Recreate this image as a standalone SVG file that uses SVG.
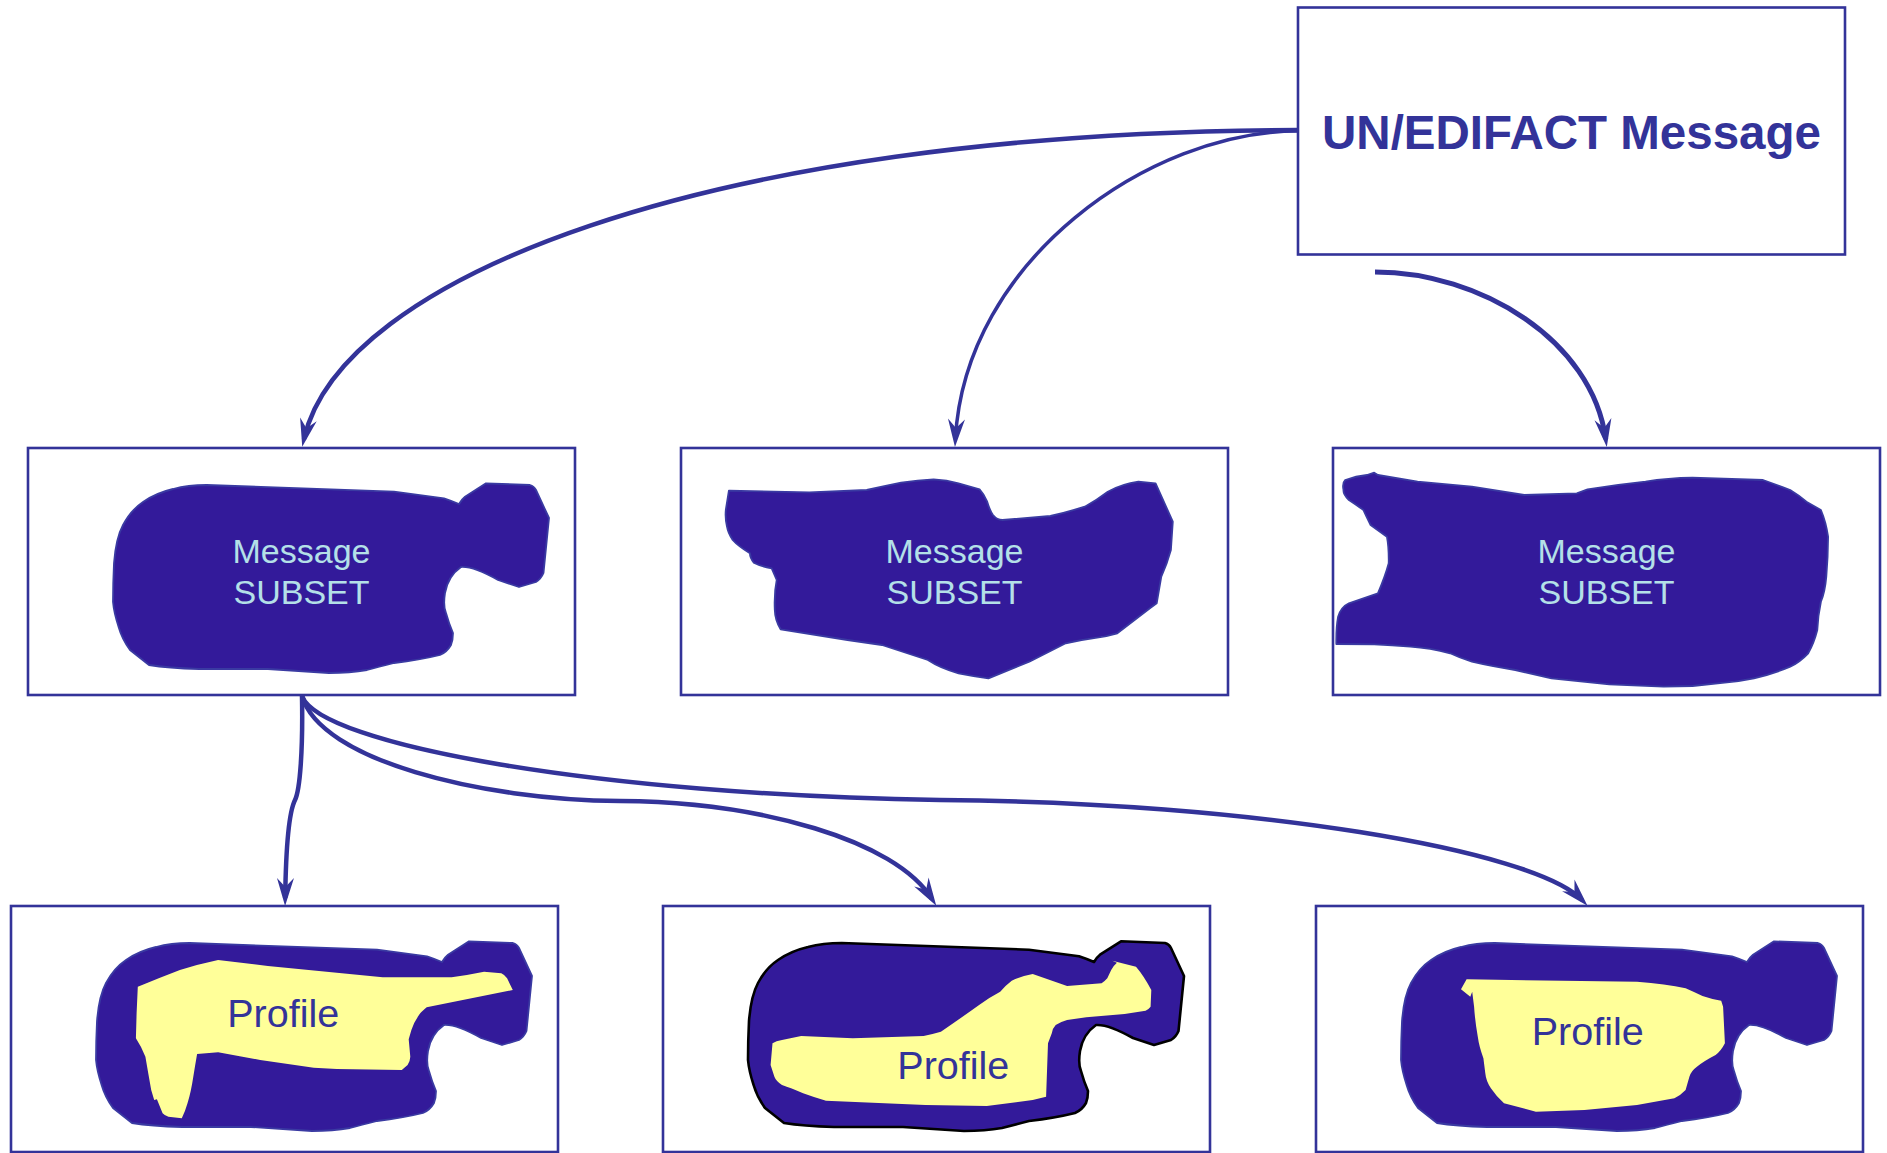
<svg xmlns="http://www.w3.org/2000/svg" width="1887" height="1153" viewBox="0 0 1887 1153">
<style>
.box{fill:#ffffff;stroke:#333399;stroke-width:2.6}
.blob{fill:#331a9a;stroke:#3a3aa2;stroke-width:1.8;stroke-linejoin:round}
.blobk{fill:#331a9a;stroke:#000000;stroke-width:2.6;stroke-linejoin:round}
.yel{fill:#ffff99;stroke:none}
.conn{fill:none;stroke:#333399;stroke-linecap:butt}
.title{font-family:"Liberation Sans",Arial,sans-serif;font-weight:bold;font-size:47.5px;fill:#333399;text-anchor:middle}
.sub{font-family:"Liberation Sans",Arial,sans-serif;font-size:34px;fill:#b4e0e8;text-anchor:middle}
.prof{font-family:"Liberation Sans",Arial,sans-serif;font-size:39.5px;fill:#333399;text-anchor:middle}
</style>
<defs>
<marker id="arr" markerUnits="userSpaceOnUse" orient="auto" markerWidth="40" markerHeight="24" viewBox="-30 -10 40 20" refX="-8" refY="0" overflow="visible">
<path d="M0,0 L-28,-8.5 L-19,0 L-28,8.5 Z" fill="#333399"/>
</marker>
<path id="outer" d="M178.7,37 L366,43.7 L416,50.3 Q424,53 431,56 Q434,51 437,48.7 L458,35.3 L502,37 Q506,38 508,42 L521,70 L515.5,125 Q513,131 508,134 L491,139 Q482,136 470,132 Q445,118 433,119 Q420,128 417,145 Q415,158 418,165 Q421,176 425,185 Q425,192 423,197 Q419,204 412,207 Q392,212 366,215 Q350,219 339,222 Q322,225 301,225 Q270,223 240,221 L171,221 Q140,220 121,217 L102,202 Q94,191 90.6,179 Q86,165 85,154 Q85,135 86,115 Q88,90 95,77 Q103,62 115,54 Q128,45 145,41 Q160,37 178.7,37 Z"/>
</defs>
<rect width="1887" height="1153" fill="#ffffff"/>

<g id="connectors">
<path class="conn" stroke-width="4.5" d="M1298,130 C700,132 340,280 304,439" marker-end="url(#arr)"/>
<path class="conn" stroke-width="3.5" d="M1298,131 C1150,131 965,260 955.4,439" marker-end="url(#arr)"/>
<path class="conn" stroke-width="5" d="M1375,272 C1480,272 1592,340 1605.7,439" marker-end="url(#arr)"/>
<path class="conn" stroke-width="4.5" d="M302,696 C303,750 300,790 295,800 C290,810 286,840 285.2,898" marker-end="url(#arr)"/>
<path class="conn" stroke-width="4.5" d="M302,696 C320,760 480,800 620,801 C760,802 895,840 932,899" marker-end="url(#arr)"/>
<path class="conn" stroke-width="4.5" d="M302,696 C320,745 600,795 940,800 C1250,802 1535,850 1582,900" marker-end="url(#arr)"/>
</g>

<g id="un-edifact-message">
<rect class="box" x="1298" y="7.5" width="547" height="247"/>
<text class="title" x="1571.5" y="149">UN/EDIFACT Message</text>
</g>

<g id="subset-1">
<rect class="box" x="28" y="448" width="547" height="247"/>
<use href="#outer" class="blob" transform="translate(28,448)"/>
<text class="sub" x="301.5" y="563">Message</text>
<text class="sub" x="301.5" y="604">SUBSET</text>
</g>

<g id="subset-2">
<rect class="box" x="681" y="448" width="547" height="247"/>
<path class="blob" d="M728.9,490.7 L809.3,492.3 L866.7,490 Q885,486 901.1,482.7 Q918,480 933.6,479.3 Q947,480 958.5,483.3 L979.6,489.3 Q984,494 987.2,501.7 Q990,511 993,515 Q997,520 1002.5,520 L1050.4,516 Q1068,512 1084.8,506.7 Q1097,500 1107.8,491.7 Q1122,484 1138.4,481.7 L1155.6,483.3 L1172.8,521.7 L1170.9,550 Q1167,564 1161.3,576.7 L1156.7,603.3 L1149.9,608.3 L1117.3,633.3 Q1105,637 1092.5,638.3 Q1080,640 1065.7,643.3 L1029.3,661.7 L988.4,678.3 Q972,676 958.5,673.3 Q940,668 927.9,660 L882,645 L847.5,640 L780.6,629.3 Q775,620 774.8,610 Q774,593 776.7,580 L771.7,568.3 Q760,566 753.8,562.7 Q750,558 749.9,553.3 Q738,546 732.7,540 Q728,533 727,526.7 Q725,518 725.8,510 Z"/>
<text class="sub" x="954.5" y="563">Message</text>
<text class="sub" x="954.5" y="604">SUBSET</text>
</g>

<g id="subset-3">
<rect class="box" x="1333" y="448" width="547" height="247"/>
<path class="blob" d="M1345.3,480 Q1356,476 1367,475 L1374.2,472.7 L1377.9,475 L1417.6,481.7 L1471.9,486.7 L1524.3,495 L1576.8,493.3 L1587.6,489.3 Q1615,485 1645.5,481.7 Q1668,478 1692.5,477.7 L1763,480 Q1777,485 1790.2,490 Q1800,496 1806.4,501.7 L1820.9,510 Q1826,522 1828.1,536.7 Q1828,557 1826.3,576.7 Q1825,592 1820.9,601.7 Q1818,615 1817.3,630 Q1814,643 1808.2,653.3 Q1800,662 1790.2,666.7 Q1773,674 1754,678.3 Q1737,682 1717.8,683.3 L1692.5,686 L1663.6,686.7 L1609.3,684.3 L1551.5,678.3 L1515.3,670 Q1490,666 1471.9,661.7 Q1460,658 1450.2,653.3 Q1430,648 1410.4,646.7 Q1392,645 1374.2,644.3 L1336.3,644 Q1336,628 1338.1,616.7 Q1341,607 1348.9,603.3 L1377.9,593.3 Q1385,577 1388.7,563.3 Q1389,548 1386.9,536.7 L1370.6,525 Q1366,516 1363.4,510 Q1355,504 1348.9,500 Q1343,494 1343.5,490 Q1342,483 1345.3,480 Z"/>
<text class="sub" x="1606.5" y="563">Message</text>
<text class="sub" x="1606.5" y="604">SUBSET</text>
</g>

<g id="profile-1">
<rect class="box" x="11" y="906" width="547" height="246"/>
<use href="#outer" class="blob" transform="translate(11,906)"/>
<path class="yel" transform="translate(11,906)" d="M126.8,80.7 Q148,72 168.9,64 Q188,58 207.1,54 L256.9,60 L371.7,71.3 L440.6,71.3 Q457,69 473.1,65.7 L490.3,67.3 Q494,69 496.1,72.3 L501.8,84 L415.7,101.3 Q410,106 408,109 Q403,116 400.4,124 L397.7,133.3 L399.3,150.7 Q399,156 396.6,159 L390.8,164 L325.8,163 L302.8,161.7 L249.2,154 L207.1,146.3 L186.1,148 Q184,160 182.3,170.7 Q180,186 176.5,197.3 Q174,206 170.8,212.3 L157.4,210.7 Q153,209 151.6,207.3 L145.9,193.3 L143.2,194 L140.2,184 Q137,166 134.4,150.7 Q130,140 124.9,132.3 L125.6,107.3 Z"/>
<text class="prof" x="283.2" y="1026.7">Profile</text>
</g>

<g id="profile-2">
<rect class="box" x="663" y="906" width="547" height="246"/>
<use href="#outer" class="blobk" transform="translate(663,906)"/>
<path class="yel" transform="translate(663,906)" d="M109.5,137.3 Q113,135 119,134 L138.2,130 L189.8,132.3 L260.6,130 Q270,128 277.9,125.7 Q298,112 316.1,99 Q327,91 337.2,85.7 Q343,79 348.7,74.7 Q358,70 369.7,68 L404.1,80 L438.6,77.3 Q442,75 444.3,72.3 L448.2,64 Q451,59 453.9,56.7 L449.3,54.7 L473,60.7 Q481,70 488.3,84 L487.6,100.7 Q486,103 482.6,104.7 L461.6,108 L423.3,111.3 L404.1,114 Q397,116 392.7,119 Q389,123 388.8,127.3 L385,137.3 L383.1,190.7 L369.7,194 L323.8,200 L262.5,199 L163,194.7 Q150,191 140.1,187.3 Q128,182 119,179 Q113,175 111.4,170.7 L107.6,159 Z"/>
<text class="prof" x="953.3" y="1079.3">Profile</text>
</g>

<g id="profile-3">
<rect class="box" x="1316" y="906" width="547" height="246"/>
<use href="#outer" class="blob" transform="translate(1316,906)"/>
<path class="yel" transform="translate(1316,906)" d="M150.6,73.3 L246.1,74.7 L321,75.7 Q350,78 369.6,82.3 Q378,86 386.5,90 Q395,93 405.2,94.7 L407.1,100.7 L408.9,137.3 Q405,145 399.6,149 Q388,155 380.9,160.7 Q375,165 373.4,170.7 L369.6,184 Q365,189 358.4,192.3 L321,199 L268.5,204 L219.9,205.7 L188,197.3 Q180,190 174.9,182.3 Q170,175 169.3,167.3 L167.4,152.3 Q163,140 161.8,130.7 Q159,115 158.1,100.7 L156.2,85.7 L154.3,90.7 L145,83.3 Z"/>
<text class="prof" x="1587.7" y="1045">Profile</text>
</g>
</svg>
